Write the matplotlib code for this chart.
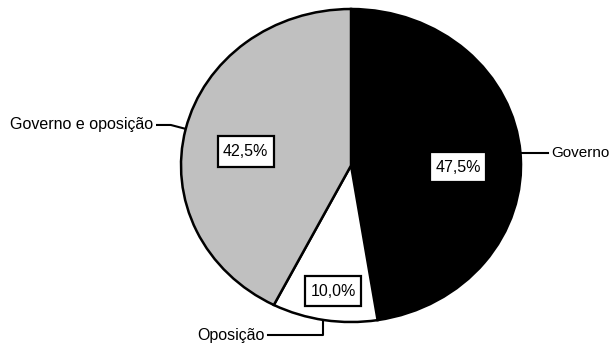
import matplotlib.pyplot as plt
from matplotlib.patches import Rectangle

plt.rcParams['font.family'] = ['Liberation Sans', 'DejaVu Sans']

# Data
labels = ['Governo', 'Oposição', 'Governo e oposição']
shares = [47.5, 10.0, 42.5]
colors = ['black', 'white', '#c0c0c0']

# Layout (pie units: radius 1, centre 0,0)
pct_pos = [(0.629, -0.01), (-0.106, -0.802), (-0.62, 0.089)]
box_w, box_h = 0.33, 0.196
label_pos = [(1.18, 0.08, 'left', 11), (-0.506, -1.083, 'right', 11.5),
             (-1.165, 0.265, 'right', 11.5)]
leaders = [
    ([1.006, 1.16], [0.08, 0.08]),
    ([-0.488, -0.165, -0.165], [-1.083, -1.083, -0.994]),
    ([-1.141, -1.06, -0.976], [0.259, 0.259, 0.235]),
]

fig = plt.figure(figsize=(6.13, 3.43), dpi=100)
ax = fig.add_axes([0, 0, 1, 1])

ax.pie(shares, colors=colors, startangle=90, counterclock=False,
       wedgeprops=dict(edgecolor='black', linewidth=1.8))
ax.set_aspect('auto')
ax.set_xlim(-2.0647, 1.541)
ax.set_ylim(-1.134, 1.0575)
ax.axis('off')

for v, (x, y) in zip(shares, pct_pos):
    txt = f'{v:.1f}%'.replace('.', ',')
    ax.add_patch(Rectangle((x - box_w / 2, y - box_h / 2), box_w, box_h,
                           fc='white', ec='black', lw=1.6, zorder=5))
    ax.text(x, y, txt, ha='center', va='center', fontsize=11.5, zorder=6)

for lab, (x, y, ha, fs), (lx, ly) in zip(labels, label_pos, leaders):
    ax.text(x, y, lab, ha=ha, va='center', fontsize=fs)
    ax.plot(lx, ly, color='black', lw=1.5, clip_on=False)

fig.savefig('out.png', dpi=100)
